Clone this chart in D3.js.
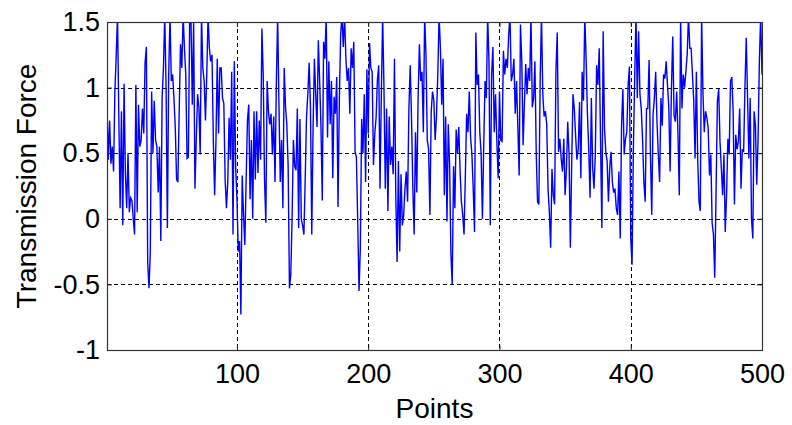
<!DOCTYPE html>
<html>
<head>
<meta charset="utf-8">
<script src="https://cdn.jsdelivr.net/npm/d3@7"></script>
<style>
  body { margin: 0; background: #fff; }
</style>
</head>
<body>
<div id="chart"></div>
<script>
// axis ticks and labels
const xTicks = [100, 200, 300, 400, 500];
const yTicks = [-1, -0.5, 0, 0.5, 1, 1.5];
const xLabel = "Points";
const yLabel = "Transmission Force";

// transmission force, points 1..500 (in pieces)
const force1 = [0.85,0.45,0.75,0.42,0.55,0.36,0.97,1.24,1.55,0.78,
  0.08,0.82,-0.05,1.03,0.35,0.08,0.5,0.05,0.16,0.14,
  0.0,-0.12,1.02,0.05,0.87,0.55,0.6,0.84,0.65,1.19,
  1.31,-0.33,-0.53,-0.25,0.97,0.5,0.9,0.6,0.55,0.2,
  0.55,-0.17,0.93,1.15,1.55,1.01,-0.07,1.1,1.55,1.05,
  1.1,0.92,0.7,0.3,0.28,0.82,1.33,1.15,1.55,1.3,
  1.1,0.46];
const force2 = [0.47,1.55,1.5,0.87,1.5,0.23,0.6,0.95,0.85,0.49,
  1.55,1.15,1.05,0.75,1.1,1.55,1.3,1.2,1.25,0.6,
  0.18,0.59,1.22,0.65,1.15,1.15,0.92,0.88,0.3,0.08,
  0.28,0.77,0.45,1.12,-0.12,1.2,0.4,0.15,-0.25,-0.17,
  -0.73,0.33,0.03,-0.2,0.3,0.75,0.87,0.15,0.6,0.0,
  0.82,0.3,0.82,0.35,0.75,0.45,1.45,1.11,0.3,-0.03,
  1.05,0.82,0.72];
const force3 = [0.8,0.49,0.78,0.28,1.02,1.55,0.87,0.28,0.6,0.08,
  1.15,0.85,0.72,0.4,-0.53,-0.43,0.0,0.6,0.4,0.37,
  0.84,-0.07,0.76,0.0,-0.05,-0.12,0.3,0.78,0.95,1.19,
  0.85,-0.12,0.7,1.22,0.95,0.7,1.36,1.05,0.7,0.14,
  1.35,1.22,1.55,0.62,1.2,0.72,1.05,0.31,0.93,0.8,
  1.08,0.09,0.9,1.4,1.55,1.31,1.55,1.22,1.05,1.15,
  0.8,1.3,1.15,1.35];
const force4 = [0.51,0.47,-0.02,-0.55,-0.22,0.76,0.5,0.95,0.28,1.14,
  0.65,1.34,1.15,1.12,0.41,0.65,0.77,1.06,1.17,0.23,
  0.95,1.55,1.0,0.23,0.84,0.06,0.78,0.41,0.55,0.34,
  1.22,0.18,-0.33,0.44,-0.25,0.34,-0.05,0.03,0.23,0.36,
  0.13,0.84,1.17,0.76,0.23,-0.12,0.66,0.2,0.92,1.33,
  1.05,1.12,0.66,1.55,1.25,0.6,0.53,0.03,0.82,0.97,
  0.9,0.6,0.78];
const force5 = [1.1,1.55,1.3,0.87,1.22,0.18,0.78,-0.02,0.72,0.41,
  -0.27,-0.5,0.4,0.08,0.68,0.5,0.7,0.36,0.13,0.03,
  -0.12,0.33,0.8,0.66,0.97,0.62,0.49,0.23,-0.1,1.42,
  1.02,1.1,0.66,0.5,0.0,0.56,1.05,0.92,1.55,1.2,
  -0.05,1.1,1.31,0.66,0.95,0.59,0.31,0.97,0.6,0.59,
  1.28,1.1,1.22,1.15,1.4,1.55,1.05,1.1,1.22,0.8,
  1.05,0.7,0.33];
const force6 = [1.48,1.2,0.56,0.88,1.18,0.95,1.15,1.05,1.55,0.85,
  0.92,1.2,0.5,0.13,0.11,1.05,1.55,0.95,0.78,0.82,
  0.72,0.23,0.05,-0.22,0.38,0.18,0.11,1.12,1.42,0.51,
  0.61,0.46,0.36,0.61,0.18,0.38,0.74,0.49,-0.22,0.41,
  0.95,0.84,0.63,0.45,0.53,0.89,0.31,1.12,0.9,1.55,
  1.22,0.8,0.53,0.16,0.92,0.39,0.23,0.49,1.17,1.02,
  1.3,0.59,-0.07];
const force7 = [1.43,0.69,0.51,0.44,0.13,0.39,0.51,0.28,0.2,0.23,
  0.08,0.03,0.36,-0.15,0.71,0.99,0.49,0.61,0.66,1.02,
  1.16,-0.15,-0.35,0.53,1.07,1.55,0.92,1.43,0.95,0.84,
  0.61,0.28,0.13,0.84,0.84,1.21,0.49,0.03,0.79,0.92,
  1.12,0.74,0.49,0.28,0.92,0.71,1.1,1.07,1.2,1.02,
  0.85,0.36,0.99,1.39,0.79,0.74,0.97,0.64,0.18,1.55,
  0.84,1.1,1.0];
const force8 = [1.12,1.25,1.55,1.3,1.3,1.1,0.9,0.46,1.12,0.46,
  0.13,0.06,1.55,0.97,0.66,0.82,0.77,0.69,0.33,0.49,
  -0.03,-0.12,-0.45,0.2,0.89,0.99,0.59,0.39,0.18,0.49,
  -0.1,0.18,0.61,0.49,1.05,1.08,0.82,0.11,0.64,0.53,
  0.59,0.84,0.23,0.53,0.51,1.0,1.38,0.92,0.46,0.92,
  0.0,-0.15,0.82,0.71,0.26,0.61,1.2,1.55,1.1];

const force = [].concat(force1, force2, force3, force4, force5, force6, force7, force8);

const width = 792, height = 425;
const margins = {top: 22, right: 30, bottom: 75, left: 107};
const fontFamily = "'Liberation Sans', Arial, sans-serif";

const svg = d3.select("#chart")
  .append("svg")
  .attr("width", width)
  .attr("height", height);

const xScale = d3.scaleLinear()
  .domain([1, 500])
  .range([margins.left, width - margins.right]);

const yScale = d3.scaleLinear()
  .domain([-1, 1.5])
  .range([height - margins.bottom, margins.top]);

const plotW = width - margins.right - margins.left;
const plotH = height - margins.bottom - margins.top;

// clip the curve to the axes box, like the original
svg.append("clipPath").attr("id", "plotClip")
  .append("rect")
  .attr("x", margins.left).attr("y", margins.top)
  .attr("width", plotW).attr("height", plotH);

/* dashed grid */
const grid = svg.append("g")
  .attr("stroke", "#000")
  .attr("stroke-width", 1)
  .attr("stroke-dasharray", "4,3");

grid.selectAll("line.vx")
  .data(xTicks.filter(d => d < 500))
  .join("line")
    .attr("class", "vx")
    .attr("x1", d => Math.round(xScale(d)) + 0.5)
    .attr("x2", d => Math.round(xScale(d)) + 0.5)
    .attr("y1", margins.top)
    .attr("y2", height - margins.bottom);

grid.selectAll("line.hy")
  .data(yTicks.filter(d => d > -1 && d < 1.5))
  .join("line")
    .attr("class", "hy")
    .attr("x1", margins.left)
    .attr("x2", width - margins.right)
    .attr("y1", d => Math.round(yScale(d)) + 0.5)
    .attr("y2", d => Math.round(yScale(d)) + 0.5);

/* the signal */
const line = d3.line()
  .x((d, i) => xScale(i + 1))
  .y(d => yScale(d));

svg.append("path")
  .datum(force)
  .attr("clip-path", "url(#plotClip)")
  .attr("fill", "none")
  .attr("stroke", "#0000ff")
  .attr("stroke-width", 1.4)
  .attr("d", line);

/* axes: ticks pointing inside on all four sides */
const fmt = d => String(d);

svg.append("g")
  .attr("transform", `translate(0,${height - margins.bottom})`)
  .call(d3.axisBottom(xScale).tickValues(xTicks).tickSize(-5).tickPadding(14).tickFormat(fmt));

svg.append("g")
  .attr("transform", `translate(${margins.left},0)`)
  .call(d3.axisLeft(yScale).tickValues(yTicks).tickSize(-5).tickPadding(7).tickFormat(fmt));

svg.append("g")
  .attr("transform", `translate(0,${margins.top})`)
  .call(d3.axisTop(xScale).tickValues(xTicks).tickSize(-5).tickFormat(""));

svg.append("g")
  .attr("transform", `translate(${width - margins.right},0)`)
  .call(d3.axisRight(yScale).tickValues(yTicks).tickSize(-5).tickFormat(""));

svg.selectAll(".domain").remove();
svg.selectAll(".tick line").attr("stroke", "#222");
svg.selectAll(".tick text")
  .attr("fill", "#000")
  .style("font-family", fontFamily)
  .style("font-size", "27px");

/* box */
svg.append("rect")
  .attr("x", margins.left + 0.5).attr("y", margins.top + 0.5)
  .attr("width", plotW).attr("height", plotH)
  .attr("fill", "none")
  .attr("stroke", "#333")
  .attr("stroke-width", 1.2);

/* labels */
svg.append("text")
  .attr("x", margins.left + plotW / 2)
  .attr("y", 418)
  .attr("text-anchor", "middle")
  .style("font-family", fontFamily)
  .style("font-size", "28px")
  .text(xLabel);

svg.append("text")
  .attr("transform", `translate(36,${margins.top + plotH / 2}) rotate(-90)`)
  .attr("text-anchor", "middle")
  .style("font-family", fontFamily)
  .style("font-size", "28px")
  .text(yLabel);
</script>
</body>
</html>
